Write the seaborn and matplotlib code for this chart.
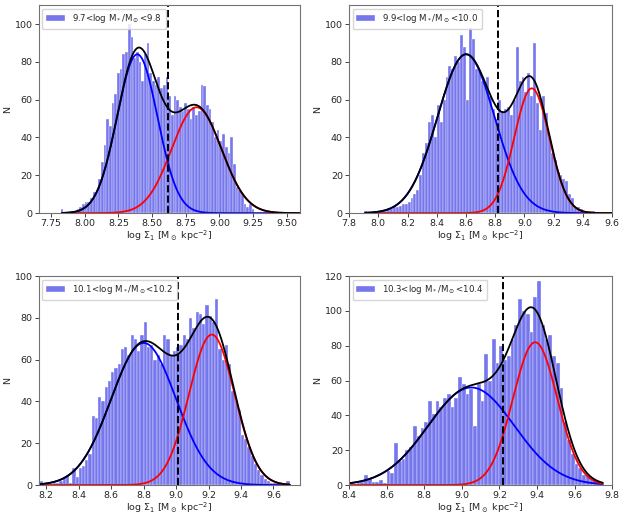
import numpy as np
import pandas as pd
import matplotlib
matplotlib.use("Agg")
import matplotlib.pyplot as plt
import seaborn as sns

# bin layout: first edge and width, counts per bin
bin_lo = [7.82, 7.90, 8.16, 8.44]
bin_w = 0.02

counts_1 = [2, 0, 0, 0, 1, 1, 2, 3, 5, 6, 6, 8, 11, 11, 18, 27, 36, 50, 46, 58,
            63, 74, 76, 84, 85, 100, 93, 82, 85, 80, 70, 84, 90, 74, 70, 68, 72, 66, 68, 72,
            62, 52, 62, 60, 56, 54, 58, 55, 50, 56, 52, 54, 68, 67, 57, 55, 48, 40, 44, 38,
            42, 35, 32, 40, 26, 14, 12, 10, 5, 3, 5, 2]
counts_2 = [1, 0, 0, 0, 1, 1, 1, 1, 2, 2, 3, 3, 4, 5, 5, 6, 8, 10, 12, 20,
            32, 37, 48, 52, 40, 57, 48, 60, 72, 78, 76, 83, 80, 94, 88, 60, 98, 92, 76, 75,
            70, 68, 72, 62, 55, 50, 60, 54, 55, 56, 52, 60, 88, 70, 72, 64, 74, 62, 90, 58,
            44, 62, 53, 40, 32, 28, 22, 20, 18, 17, 10, 8, 3, 3, 2, 1, 1, 1, 1]
counts_3 = [2, 1, 1, 0, 1, 1, 2, 4, 5, 1, 8, 4, 8, 9, 12, 15, 33, 32, 42, 40,
            47, 50, 54, 56, 58, 65, 66, 62, 72, 70, 64, 72, 78, 66, 67, 60, 62, 58, 72, 70,
            62, 64, 66, 67, 72, 70, 80, 75, 83, 82, 77, 86, 81, 78, 89, 65, 60, 67, 58, 45,
            40, 36, 24, 22, 18, 14, 10, 7, 5, 3, 2, 1, 1, 1, 1, 0, 2]
counts_4 = [1, 2, 6, 4, 2, 2, 3, 1, 8, 7, 24, 14, 15, 20, 22, 34, 28, 33, 36, 48,
            41, 48, 45, 50, 52, 45, 50, 62, 58, 52, 55, 34, 58, 48, 75, 60, 84, 70, 80, 72,
            74, 84, 92, 107, 100, 98, 88, 108, 117, 92, 84, 86, 74, 70, 56, 36, 26, 18, 12, 10,
            6, 5, 3, 3, 2]

labels = [r'9.7<log M$_*$/M$_\odot$<9.8', r'9.9<log M$_*$/M$_\odot$<10.0',
          r'10.1<log M$_*$/M$_\odot$<10.2', r'10.3<log M$_*$/M$_\odot$<10.4']

# two-gaussian fits: (amp, mu, sigma)
blue_fit = [(84, 8.39, 0.15), (84, 8.60, 0.195), (68, 8.80, 0.20), (56, 9.05, 0.23)]
red_fit = [(56, 8.83, 0.185), (66, 9.05, 0.12), (72, 9.22, 0.14), (82, 9.39, 0.118)]
fit_range = [(7.83, 9.60), (7.91, 9.60), (8.14, 9.70), (8.40, 9.75)]
split = [8.62, 8.82, 9.01, 9.22]

xlims = [(7.66, 9.60), (7.80, 9.60), (8.155, 9.765), (8.40, 9.80)]
ylims = [(0, 110), (0, 110), (0, 100), (0, 120)]
xticks = [np.arange(7.75, 9.51, 0.25), np.arange(7.8, 9.61, 0.2),
          np.arange(8.2, 9.61, 0.2), np.arange(8.4, 9.81, 0.2)]
yticks = [np.arange(0, 101, 20), np.arange(0, 101, 20),
          np.arange(0, 101, 20), np.arange(0, 121, 20)]
xfmt = ['%.2f', '%.1f', '%.1f', '%.1f']

all_counts = [counts_1, counts_2, counts_3, counts_4]

sns.set_style('ticks')
plt.rcParams['font.family'] = ['DejaVu Sans']
plt.rcParams['mathtext.default'] = 'regular'

fig = plt.figure(figsize=(6.19, 5.16), dpi=100)
positions = [[0.063, 0.587, 0.422, 0.403], [0.564, 0.587, 0.425, 0.403],
             [0.063, 0.060, 0.422, 0.405], [0.564, 0.060, 0.425, 0.405]]


def gauss(x, a, mu, s):
    return a * np.exp(-(x - mu) ** 2 / (2 * s ** 2))


for i in range(4):
    ax = fig.add_axes(positions[i])
    c = np.array(all_counts[i], dtype=float)
    edges = bin_lo[i] + bin_w * np.arange(len(c) + 1)
    df = pd.DataFrame({'x': 0.5 * (edges[:-1] + edges[1:]), 'n': c})
    sns.histplot(data=df, x='x', weights='n', bins=list(edges), color='#1010e0', alpha=0.57,
                 edgecolor='white', linewidth=0.25, ax=ax, label=labels[i])

    xs = np.linspace(fit_range[i][0], fit_range[i][1], 400)
    yb = gauss(xs, *blue_fit[i])
    yr = gauss(xs, *red_fit[i])
    ax.plot(xs, yb, color='blue', lw=1.3)
    ax.plot(xs, yr, color='red', lw=1.3)
    ax.plot(xs, yb + yr, color='black', lw=1.3)
    ax.axvline(split[i], color='black', ls='--', lw=1.4)

    ax.set_xlim(*xlims[i])
    ax.set_ylim(*ylims[i])
    ax.set_xticks(xticks[i])
    ax.set_xticklabels([xfmt[i] % v for v in xticks[i]])
    ax.set_yticks(yticks[i])
    ax.tick_params(labelsize=6.8, length=3, width=0.6, pad=1.5)
    for sp in ax.spines.values():
        sp.set_color('0.45')
        sp.set_linewidth(0.8)
    ax.set_xlabel(r'log $\Sigma_1$ [M$_\odot$ kpc$^{-2}$]', fontsize=6.8, labelpad=0)
    ax.set_ylabel('N', fontsize=6.8, labelpad=2)
    ax.legend(loc='upper left', fontsize=6.2, frameon=True, handlelength=2.2,
              borderpad=0.45, handletextpad=0.8, borderaxespad=0.4)

fig.savefig('out.png', dpi=100)
plt.close(fig)
